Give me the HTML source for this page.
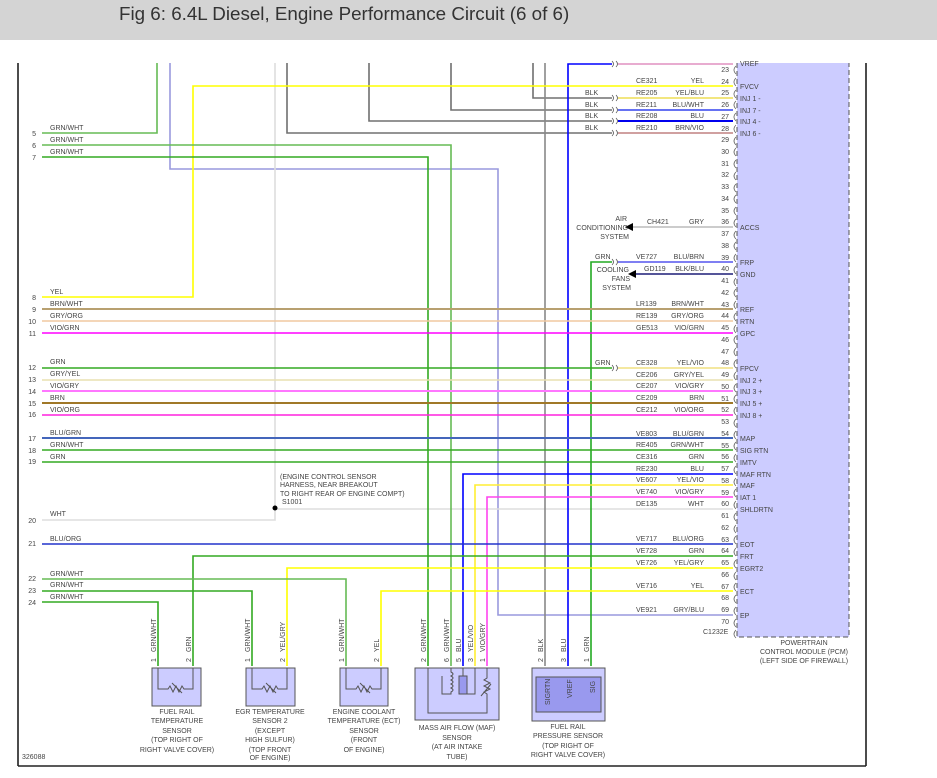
<!DOCTYPE html>
<html><head><meta charset="utf-8"><style>
html,body{margin:0;padding:0;background:#fff;}
svg{display:block;font-family:"Liberation Sans",sans-serif;}
text{fill:#444;font-size:7px;}
.t{font-size:18.8px;fill:#333;}
.pn{text-anchor:end;}
.c{text-anchor:middle;}
</style></head><body>
<svg width="937" height="778" viewBox="0 0 937 778" xmlns="http://www.w3.org/2000/svg">
<rect x="0" y="0" width="937" height="40" fill="#d4d4d4"/>
<text class="t" x="119" y="20">Fig 6: 6.4L Diesel, Engine Performance Circuit (6 of 6)</text>
<line x1="18" y1="63" x2="18" y2="766" stroke="#111" stroke-width="1.5"/>
<line x1="866" y1="63" x2="866" y2="766" stroke="#111" stroke-width="1.5"/>
<line x1="18" y1="766" x2="866" y2="766" stroke="#222" stroke-width="1.5"/>
<rect x="737" y="63" width="112" height="574" fill="#ccccff"/>
<path d="M737 63 V637 H849 V63" fill="none" stroke="#555" stroke-width="1" stroke-dasharray="5,3"/>
<g fill="none" stroke-width="1.6">
<path d="M42 133 H157 V63" stroke="#66bb55"/>
<path d="M170 63 V169 H498 V615 H733" stroke="#9999dd"/>
<path d="M275 63 V509" stroke="#dddddd"/>
<path d="M42 520 H275 V509 H733" stroke="#dddddd"/>
<path d="M287 63 V133 H612" stroke="#707070"/>
<path d="M369 63 V121 H612" stroke="#707070"/>
<path d="M451 63 V110 H612" stroke="#707070"/>
<path d="M533 63 V98 H612" stroke="#707070"/>
<path d="M545 63 V666" stroke="#888"/>
<path d="M568 666 V64 H612" stroke="#0000ff"/>
<path d="M618 64 H733" stroke="#e090c0"/>
<path d="M618 98 H733" stroke="#eedd55"/>
<path d="M618 110 H733" stroke="#3344ee"/>
<path d="M618 121 H733" stroke="#0000ee" stroke-width="2"/>
<path d="M618 133 H733" stroke="#c08080"/>
<path d="M42 297 H193 V86 H733" stroke="#ffff00"/>
<path d="M42 145 H451 V666" stroke="#66bb55"/>
<path d="M42 157 H428 V666" stroke="#33aa22"/>
<path d="M633 227 H733" stroke="#bbbbbb"/>
<path d="M591 666 V262 H612" stroke="#22aa22"/>
<path d="M618 262 H733" stroke="#5555ee"/>
<path d="M636 274 H733" stroke="#555599" stroke-width="2"/>
<path d="M42 309 H733" stroke="#b8a070" stroke-width="2"/>
<path d="M42 321 H733" stroke="#f0c8a0"/>
<path d="M42 333 H733" stroke="#ff00ff"/>
<path d="M42 368 H612" stroke="#33aa22"/>
<path d="M618 368 H733" stroke="#f0e080"/>
<path d="M42 380 H733" stroke="#e8e0b0"/>
<path d="M42 391 H733" stroke="#ff77ff" stroke-width="2"/>
<path d="M42 403 H733" stroke="#a07828" stroke-width="2"/>
<path d="M42 415 H733" stroke="#ff22dd"/>
<path d="M42 438 H733" stroke="#4466bb" stroke-width="2"/>
<path d="M42 450 H733" stroke="#33aa22"/>
<path d="M42 462 H733" stroke="#33aa22"/>
<path d="M463 666 V474 H733" stroke="#0000ff"/>
<path d="M475 666 V485 H733" stroke="#ffee33"/>
<path d="M487 666 V497 H733" stroke="#ff44ee"/>
<path d="M42 544 H733" stroke="#2233cc"/>
<path d="M193 666 V556 H733" stroke="#33aa22"/>
<path d="M287 666 V568 H733" stroke="#ffff00"/>
<path d="M381 666 V591 H733" stroke="#ffff00"/>
<path d="M42 579 H346 V666" stroke="#66bb55"/>
<path d="M42 591 H252 V666" stroke="#33aa22"/>
<path d="M42 602 H158 V666" stroke="#33aa22"/>
</g>
<circle cx="275" cy="508" r="2.5" fill="#000"/>
<path d="M625 227 L633 223 L633 231 Z" fill="#000"/>
<path d="M628 274 L636 270 L636 278 Z" fill="#000"/>
<g fill="none" stroke="#555" stroke-width="0.8">
<path d="M612 95 q3 3 0 6 M616 95 q3 3 0 6 M612 107 q3 3 0 6 M616 107 q3 3 0 6 M612 118 q3 3 0 6 M616 118 q3 3 0 6 M612 130 q3 3 0 6 M616 130 q3 3 0 6 M612 61 q3 3 0 6 M616 61 q3 3 0 6 M612 259 q3 3 0 6 M616 259 q3 3 0 6 M612 365 q3 3 0 6 M616 365 q3 3 0 6"/>
</g>
<g fill="none" stroke="#666" stroke-width="0.8">
<path d="M736 66 q-4 4 0 8 M736 78 q-4 4 0 8 M736 90 q-4 4 0 8 M736 101 q-4 4 0 8 M736 113 q-4 4 0 8 M736 125 q-4 4 0 8 M736 137 q-4 4 0 8 M736 148 q-4 4 0 8 M736 160 q-4 4 0 8 M736 172 q-4 4 0 8 M736 184 q-4 4 0 8 M736 195 q-4 4 0 8 M736 207 q-4 4 0 8 M736 219 q-4 4 0 8 M736 231 q-4 4 0 8 M736 242 q-4 4 0 8 M736 254 q-4 4 0 8 M736 266 q-4 4 0 8 M736 278 q-4 4 0 8 M736 289 q-4 4 0 8 M736 301 q-4 4 0 8 M736 313 q-4 4 0 8 M736 325 q-4 4 0 8 M736 336 q-4 4 0 8 M736 348 q-4 4 0 8 M736 360 q-4 4 0 8 M736 372 q-4 4 0 8 M736 384 q-4 4 0 8 M736 395 q-4 4 0 8 M736 407 q-4 4 0 8 M736 419 q-4 4 0 8 M736 431 q-4 4 0 8 M736 442 q-4 4 0 8 M736 454 q-4 4 0 8 M736 466 q-4 4 0 8 M736 478 q-4 4 0 8 M736 489 q-4 4 0 8 M736 501 q-4 4 0 8 M736 513 q-4 4 0 8 M736 525 q-4 4 0 8 M736 536 q-4 4 0 8 M736 548 q-4 4 0 8 M736 560 q-4 4 0 8 M736 572 q-4 4 0 8 M736 583 q-4 4 0 8 M736 595 q-4 4 0 8 M736 607 q-4 4 0 8 M736 619 q-4 4 0 8 M736 630 q-4 4 0 8"/>
</g>
<g class="pn">
<text x="729" y="72" class="pn">23</text><text x="729" y="84" class="pn">24</text><text x="729" y="95" class="pn">25</text><text x="729" y="107" class="pn">26</text><text x="729" y="119" class="pn">27</text><text x="729" y="131" class="pn">28</text><text x="729" y="142" class="pn">29</text><text x="729" y="154" class="pn">30</text><text x="729" y="166" class="pn">31</text><text x="729" y="177" class="pn">32</text><text x="729" y="189" class="pn">33</text><text x="729" y="201" class="pn">34</text><text x="729" y="213" class="pn">35</text><text x="729" y="224" class="pn">36</text><text x="729" y="236" class="pn">37</text><text x="729" y="248" class="pn">38</text><text x="729" y="260" class="pn">39</text><text x="729" y="271" class="pn">40</text><text x="729" y="283" class="pn">41</text><text x="729" y="295" class="pn">42</text><text x="729" y="307" class="pn">43</text><text x="729" y="318" class="pn">44</text><text x="729" y="330" class="pn">45</text><text x="729" y="342" class="pn">46</text><text x="729" y="354" class="pn">47</text><text x="729" y="365" class="pn">48</text><text x="729" y="377" class="pn">49</text><text x="729" y="389" class="pn">50</text><text x="729" y="401" class="pn">51</text><text x="729" y="412" class="pn">52</text><text x="729" y="424" class="pn">53</text><text x="729" y="436" class="pn">54</text><text x="729" y="448" class="pn">55</text><text x="729" y="459" class="pn">56</text><text x="729" y="471" class="pn">57</text><text x="729" y="483" class="pn">58</text><text x="729" y="495" class="pn">59</text><text x="729" y="506" class="pn">60</text><text x="729" y="518" class="pn">61</text><text x="729" y="530" class="pn">62</text><text x="729" y="542" class="pn">63</text><text x="729" y="553" class="pn">64</text><text x="729" y="565" class="pn">65</text><text x="729" y="577" class="pn">66</text><text x="729" y="589" class="pn">67</text><text x="729" y="600" class="pn">68</text><text x="729" y="612" class="pn">69</text><text x="729" y="624" class="pn">70</text>
</g>
<g>
<text x="740" y="66">VREF</text><text x="740" y="89">FVCV</text><text x="740" y="101">INJ 1 -</text><text x="740" y="113">INJ 7 -</text><text x="740" y="124">INJ 4 -</text><text x="740" y="136">INJ 6 -</text><text x="740" y="230">ACCS</text><text x="740" y="265">FRP</text><text x="740" y="277">GND</text><text x="740" y="312">REF</text><text x="740" y="324">RTN</text><text x="740" y="336">GPC</text><text x="740" y="371">FPCV</text><text x="740" y="383">INJ 2 +</text><text x="740" y="394">INJ 3 +</text><text x="740" y="406">INJ 5 +</text><text x="740" y="418">INJ 8 +</text><text x="740" y="441">MAP</text><text x="740" y="453">SIG RTN</text><text x="740" y="465">IMTV</text><text x="740" y="477">MAF RTN</text><text x="740" y="488">MAF</text><text x="740" y="500">IAT 1</text><text x="740" y="512">SHLDRTN</text><text x="740" y="547">EOT</text><text x="740" y="559">FRT</text><text x="740" y="571">EGRT2</text><text x="740" y="594">ECT</text><text x="740" y="618">EP</text>
</g>
<g>
<text x="636" y="83">CE321</text><text x="704" y="83" class="pn">YEL</text>
<text x="636" y="95">RE205</text><text x="704" y="95" class="pn">YEL/BLU</text>
<text x="636" y="107">RE211</text><text x="704" y="107" class="pn">BLU/WHT</text>
<text x="636" y="118">RE208</text><text x="704" y="118" class="pn">BLU</text>
<text x="636" y="130">RE210</text><text x="704" y="130" class="pn">BRN/VIO</text>
<text x="647" y="224">CH421</text><text x="704" y="224" class="pn">GRY</text>
<text x="636" y="259">VE727</text><text x="704" y="259" class="pn">BLU/BRN</text>
<text x="644" y="271">GD119</text><text x="704" y="271" class="pn">BLK/BLU</text>
<text x="636" y="306">LR139</text><text x="704" y="306" class="pn">BRN/WHT</text>
<text x="636" y="318">RE139</text><text x="704" y="318" class="pn">GRY/ORG</text>
<text x="636" y="330">GE513</text><text x="704" y="330" class="pn">VIO/GRN</text>
<text x="636" y="365">CE328</text><text x="704" y="365" class="pn">YEL/VIO</text>
<text x="636" y="377">CE206</text><text x="704" y="377" class="pn">GRY/YEL</text>
<text x="636" y="388">CE207</text><text x="704" y="388" class="pn">VIO/GRY</text>
<text x="636" y="400">CE209</text><text x="704" y="400" class="pn">BRN</text>
<text x="636" y="412">CE212</text><text x="704" y="412" class="pn">VIO/ORG</text>
<text x="636" y="436">VE803</text><text x="704" y="436" class="pn">BLU/GRN</text>
<text x="636" y="447">RE405</text><text x="704" y="447" class="pn">GRN/WHT</text>
<text x="636" y="459">CE316</text><text x="704" y="459" class="pn">GRN</text>
<text x="636" y="471">RE230</text><text x="704" y="471" class="pn">BLU</text>
<text x="636" y="482">VE607</text><text x="704" y="482" class="pn">YEL/VIO</text>
<text x="636" y="494">VE740</text><text x="704" y="494" class="pn">VIO/GRY</text>
<text x="636" y="506">DE135</text><text x="704" y="506" class="pn">WHT</text>
<text x="636" y="541">VE717</text><text x="704" y="541" class="pn">BLU/ORG</text>
<text x="636" y="553">VE728</text><text x="704" y="553" class="pn">GRN</text>
<text x="636" y="565">VE726</text><text x="704" y="565" class="pn">YEL/GRY</text>
<text x="636" y="588">VE716</text><text x="704" y="588" class="pn">YEL</text>
<text x="636" y="612">VE921</text><text x="704" y="612" class="pn">GRY/BLU</text>
<text x="703" y="634">C1232E</text>
<text x="585" y="95">BLK</text><text x="585" y="107">BLK</text><text x="585" y="118">BLK</text><text x="585" y="130">BLK</text>
<text x="595" y="259">GRN</text><text x="595" y="365">GRN</text>
<text x="627" y="221" class="pn">AIR</text><text x="628" y="230" class="pn">CONDITIONING</text><text x="629" y="239" class="pn">SYSTEM</text>
<text x="629" y="272" class="pn">COOLING</text><text x="630" y="281" class="pn">FANS</text><text x="631" y="290" class="pn">SYSTEM</text>
<text x="804" y="645" class="c">POWERTRAIN</text><text x="804" y="654" class="c">CONTROL MODULE (PCM)</text><text x="804" y="663" class="c">(LEFT SIDE OF FIREWALL)</text>
<text x="280" y="479">(ENGINE CONTROL SENSOR</text><text x="280" y="487">HARNESS, NEAR BREAKOUT</text><text x="280" y="496">TO RIGHT REAR OF ENGINE COMPT)</text><text x="282" y="504">S1001</text>
<text x="22" y="759">326088</text>
</g>
<g>
<text x="36" y="136" class="pn">5</text><text x="50" y="130">GRN/WHT</text>
<text x="36" y="148" class="pn">6</text><text x="50" y="142">GRN/WHT</text>
<text x="36" y="160" class="pn">7</text><text x="50" y="154">GRN/WHT</text>
<text x="36" y="300" class="pn">8</text><text x="50" y="294">YEL</text>
<text x="36" y="312" class="pn">9</text><text x="50" y="306">BRN/WHT</text>
<text x="36" y="324" class="pn">10</text><text x="50" y="318">GRY/ORG</text>
<text x="36" y="336" class="pn">11</text><text x="50" y="330">VIO/GRN</text>
<text x="36" y="370" class="pn">12</text><text x="50" y="364">GRN</text>
<text x="36" y="382" class="pn">13</text><text x="50" y="376">GRY/YEL</text>
<text x="36" y="394" class="pn">14</text><text x="50" y="388">VIO/GRY</text>
<text x="36" y="406" class="pn">15</text><text x="50" y="400">BRN</text>
<text x="36" y="417" class="pn">16</text><text x="50" y="412">VIO/ORG</text>
<text x="36" y="441" class="pn">17</text><text x="50" y="435">BLU/GRN</text>
<text x="36" y="453" class="pn">18</text><text x="50" y="447">GRN/WHT</text>
<text x="36" y="464" class="pn">19</text><text x="50" y="459">GRN</text>
<text x="36" y="523" class="pn">20</text><text x="50" y="516">WHT</text>
<text x="36" y="546" class="pn">21</text><text x="50" y="541">BLU/ORG</text>
<text x="36" y="581" class="pn">22</text><text x="50" y="576">GRN/WHT</text>
<text x="36" y="593" class="pn">23</text><text x="50" y="587">GRN/WHT</text>
<text x="36" y="605" class="pn">24</text><text x="50" y="599">GRN/WHT</text>
</g>
<g stroke="#555" stroke-width="1">
<rect x="152" y="668" width="49" height="38" fill="#ccccff"/>
<rect x="246" y="668" width="49" height="38" fill="#ccccff"/>
<rect x="340" y="668" width="48" height="38" fill="#ccccff"/>
<rect x="415" y="668" width="84" height="52" fill="#ccccff"/>
<rect x="532" y="668" width="73" height="53" fill="#ccccff"/>
<rect x="536" y="677" width="65" height="35" fill="#9999ee"/>
</g>
<g fill="none" stroke="#555" stroke-width="1">
<path d="M158 668 V689 H168 l2 -3 l3 6 l3 -6 l3 6 l3 -6 l2 3 H193 V668 M172 683 l10 10"/>
<path d="M252 668 V689 H262 l2 -3 l3 6 l3 -6 l3 6 l3 -6 l2 3 H287 V668 M266 683 l10 10"/>
<path d="M346 668 V689 H356 l2 -3 l3 6 l3 -6 l3 6 l3 -6 l2 3 H381 V668 M360 683 l10 10"/>
<path d="M428 668 V713 H487 V700 M487 668 V678 l-3 2 l6 3 l-6 3 l6 3 l-6 3 l3 2 V700 M481 696 l10 -12"/>
<path d="M451 668 V672 q4 2 0 4 q4 2 0 4 q4 2 0 4 q4 2 0 4 q4 2 0 4 V694 H442 V676 M463 668 V676 M475 668 V694 H466 V676"/>
<rect x="459" y="676" width="8" height="18" fill="#9999ee"/>
</g>
<g font-size="6.5">
<text transform="translate(550,705) rotate(-90)">SIGRTN</text>
<text transform="translate(572,698) rotate(-90)">VREF</text>
<text transform="translate(595,693) rotate(-90)">SIG</text>
</g>
<g>
<text transform="translate(156,662) rotate(-90)">1</text><text transform="translate(156,652) rotate(-90)">GRN/WHT</text>
<text transform="translate(191,662) rotate(-90)">2</text><text transform="translate(191,652) rotate(-90)">GRN</text>
<text transform="translate(250,662) rotate(-90)">1</text><text transform="translate(250,652) rotate(-90)">GRN/WHT</text>
<text transform="translate(285,662) rotate(-90)">2</text><text transform="translate(285,652) rotate(-90)">YEL/GRY</text>
<text transform="translate(344,662) rotate(-90)">1</text><text transform="translate(344,652) rotate(-90)">GRN/WHT</text>
<text transform="translate(379,662) rotate(-90)">2</text><text transform="translate(379,652) rotate(-90)">YEL</text>
<text transform="translate(426,662) rotate(-90)">2</text><text transform="translate(426,652) rotate(-90)">GRN/WHT</text>
<text transform="translate(449,662) rotate(-90)">6</text><text transform="translate(449,652) rotate(-90)">GRN/WHT</text>
<text transform="translate(461,662) rotate(-90)">5</text><text transform="translate(461,652) rotate(-90)">BLU</text>
<text transform="translate(473,662) rotate(-90)">3</text><text transform="translate(473,652) rotate(-90)">YEL/VIO</text>
<text transform="translate(485,662) rotate(-90)">1</text><text transform="translate(485,652) rotate(-90)">VIO/GRY</text>
<text transform="translate(543,662) rotate(-90)">2</text><text transform="translate(543,652) rotate(-90)">BLK</text>
<text transform="translate(566,662) rotate(-90)">3</text><text transform="translate(566,652) rotate(-90)">BLU</text>
<text transform="translate(589,662) rotate(-90)">1</text><text transform="translate(589,652) rotate(-90)">GRN</text>
</g>
<g class="c">
<text x="177" y="714" class="c">FUEL RAIL</text><text x="177" y="723" class="c">TEMPERATURE</text><text x="177" y="733" class="c">SENSOR</text><text x="177" y="742" class="c">(TOP RIGHT OF</text><text x="177" y="752" class="c">RIGHT VALVE COVER)</text>
<text x="270" y="714" class="c">EGR TEMPERATURE</text><text x="270" y="723" class="c">SENSOR 2</text><text x="270" y="733" class="c">(EXCEPT</text><text x="270" y="742" class="c">HIGH SULFUR)</text><text x="270" y="752" class="c">(TOP FRONT</text><text x="270" y="760" class="c">OF ENGINE)</text>
<text x="364" y="714" class="c">ENGINE COOLANT</text><text x="364" y="723" class="c">TEMPERATURE (ECT)</text><text x="364" y="733" class="c">SENSOR</text><text x="364" y="742" class="c">(FRONT</text><text x="364" y="752" class="c">OF ENGINE)</text>
<text x="457" y="730" class="c">MASS AIR FLOW (MAF)</text><text x="457" y="740" class="c">SENSOR</text><text x="457" y="749" class="c">(AT AIR INTAKE</text><text x="457" y="759" class="c">TUBE)</text>
<text x="568" y="729" class="c">FUEL RAIL</text><text x="568" y="738" class="c">PRESSURE SENSOR</text><text x="568" y="748" class="c">(TOP RIGHT OF</text><text x="568" y="757" class="c">RIGHT VALVE COVER)</text>
</g>
</svg>
</body></html>
